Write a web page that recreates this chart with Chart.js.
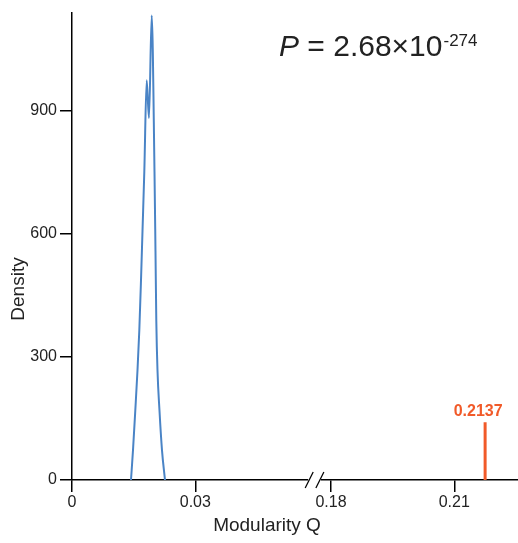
<!DOCTYPE html>
<html>
<head>
<meta charset="utf-8">
<script src="https://cdn.jsdelivr.net/npm/chart.js@4/dist/chart.umd.min.js"></script>
<style>
  html, body { margin: 0; padding: 0; background: #fff; }
  #wrap { width: 518px; height: 543px; position: relative; }
</style>
</head>
<body>
<div id="wrap"><canvas id="c" width="518" height="543"></canvas></div>
<script>
// ---- data ----
const densityQ = [0.01435, 0.01484, 0.01540, 0.01593, 0.01637, 0.01678, 0.01715, 0.01759, 0.01817, 0.01873, 0.01939, 0.02007, 0.02031, 0.02051, 0.02080, 0.02128, 0.02189, 0.02262];
const densityY = [0, 73, 170, 267, 364, 485, 607, 752, 975, 883, 1133, 752, 558, 388, 267, 170, 73, 0];
const observedQ = [0.2175];          // position of the observed marker
const observedH = [141];             // height of the observed marker
const observedLabel = ['0.2137'];
const xTickValues = [0, 0.03, 0.18, 0.21];
const xTickLabels = ['0', '0.03', '0.18', '0.21'];
const yTickValues = [0, 300, 600, 900];
const yTickLabels = ['0', '300', '600', '900'];
const axisBreak = [0.0577, 0.1773];  // Q values at either side of the broken axis
const pText = { italic: 'P', main: ' = 2.68\u00d710', sup: '-274' };

// ---- broken axis mapping ----
const SHIFT = 0.117;
const toAxis = q => (q < 0.1 ? q : q - SHIFT);

const FONT = '"Liberation Sans", Arial, Helvetica, sans-serif';
const TXT = '#222';

const blueData = densityQ.map((q, i) => ({ x: toAxis(q), y: densityY[i] }));
const orangeData = [{ x: toAxis(observedQ[0]), y: 0 }, { x: toAxis(observedQ[0]), y: observedH[0] }];

const decor = {
  id: 'decor',
  afterDraw(chart) {
    const ctx = chart.ctx;
    const xs = chart.scales.x, ys = chart.scales.y;
    ctx.save();
    // axis break
    const b0 = xs.getPixelForValue(toAxis(axisBreak[0]));
    const b1 = xs.getPixelForValue(toAxis(axisBreak[1]));
    const yb = ys.getPixelForValue(0);
    ctx.fillStyle = '#fff';
    ctx.fillRect(b0 - 1, yb - 3, b1 - b0 + 2, 6);
    ctx.strokeStyle = '#000';
    ctx.lineWidth = 1.3;
    [b0, b1].forEach(bx => {
      ctx.beginPath();
      ctx.moveTo(bx - 4, yb + 8);
      ctx.lineTo(bx + 4, yb - 8);
      ctx.stroke();
    });
    // observed label
    const ox = xs.getPixelForValue(toAxis(observedQ[0]));
    const oy = ys.getPixelForValue(observedH[0]);
    ctx.fillStyle = '#f15a29';
    ctx.font = 'bold 16px ' + FONT;
    ctx.textAlign = 'center';
    ctx.textBaseline = 'alphabetic';
    ctx.fillText(observedLabel[0], ox - 7, oy - 6);
    // axis titles
    ctx.fillStyle = TXT;
    ctx.font = '19px ' + FONT;
    ctx.textBaseline = 'middle';
    ctx.fillText('Modularity Q', 267, 526);
    ctx.save();
    ctx.translate(19, 289);
    ctx.rotate(-Math.PI / 2);
    ctx.fillText('Density', 0, 0);
    ctx.restore();
    // P value
    ctx.textAlign = 'left';
    ctx.textBaseline = 'alphabetic';
    let x = 279;
    const base = 56;
    ctx.font = 'italic 30px ' + FONT;
    ctx.fillText(pText.italic, x, base);
    x += ctx.measureText(pText.italic).width;
    ctx.font = '30px ' + FONT;
    ctx.fillText(pText.main, x, base);
    x += ctx.measureText(pText.main).width + 1;
    ctx.font = '17px ' + FONT;
    ctx.fillText(pText.sup, x, base - 10);
    ctx.restore();
  }
};

new Chart(document.getElementById('c'), {
  type: 'line',
  data: {
    datasets: [
      { data: blueData, borderColor: '#4a84c6', borderWidth: 2, pointRadius: 0, cubicInterpolationMode: 'monotone', fill: false },
      { data: orangeData, borderColor: '#f15a29', borderWidth: 3, pointRadius: 0, tension: 0, fill: false }
    ]
  },
  options: {
    responsive: false,
    animation: false,
    events: [],
    layout: { padding: { top: 10, right: 0, left: 0, bottom: 0 } },
    plugins: { legend: { display: false }, tooltip: { enabled: false }, title: { display: false } },
    scales: {
      x: {
        type: 'linear',
        min: 0,
        max: 0.1085,
        afterBuildTicks: s => { s.ticks = xTickValues.map(v => ({ value: toAxis(v) })); },
        afterFit: s => { s.height = 63; },
        ticks: {
          autoSkip: false, maxRotation: 0, padding: 1, color: TXT,
          font: { family: FONT, size: 16 },
          callback: (v, i) => xTickLabels[i]
        },
        grid: { drawOnChartArea: false, drawTicks: true, tickLength: 12, color: '#000', lineWidth: 1.5 },
        border: { display: true, color: '#000', width: 1.5 }
      },
      y: {
        min: 0,
        max: 1140,
        afterBuildTicks: s => { s.ticks = yTickValues.map(v => ({ value: v })); },
        afterFit: s => { s.width = 72; },
        ticks: {
          padding: 3, color: TXT,
          font: { family: FONT, size: 16 },
          callback: (v, i) => yTickLabels[i]
        },
        grid: { drawOnChartArea: false, drawTicks: true, tickLength: 12, color: '#000', lineWidth: 1.5 },
        border: { display: true, color: '#000', width: 1.5 }
      }
    }
  },
  plugins: [decor]
});
</script>
</body>
</html>
